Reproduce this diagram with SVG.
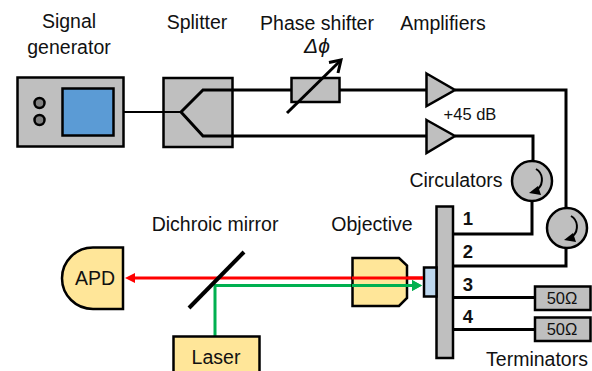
<svg xmlns="http://www.w3.org/2000/svg" width="592" height="371" viewBox="0 0 592 371">
<defs>
<marker id="red" markerWidth="12" markerHeight="12" refX="0" refY="5" orient="auto" markerUnits="userSpaceOnUse" overflow="visible"><path d="M0,0L10,5L0,10Z" fill="#f00"/></marker>
<marker id="green" markerWidth="12" markerHeight="12" refX="0" refY="5.5" orient="auto" markerUnits="userSpaceOnUse" overflow="visible"><path d="M0,0L10,5.5L0,11Z" fill="#00b050"/></marker>
</defs>
<style>
text{font-family:"Liberation Sans",Arial,sans-serif;font-size:19.5px;fill:#111;text-anchor:middle}
.gray{fill:#bfbfbf;stroke:#000;stroke-width:2.5}
.tan{fill:#ffe699;stroke:#000;stroke-width:2.5}
.w{fill:none;stroke:#000;stroke-width:3}
.s{font-size:16.5px}
.b{font-weight:bold;font-size:18.5px}
</style>
<g id="connectors">
<path class="w" d="M232,90H426"/>
<path class="w" d="M232,136H426"/>
<path class="w" d="M455,90H566V208"/>
<path class="w" d="M455,136H533V161"/>
<path class="w" d="M453,234H532V201"/>
<path class="w" d="M453,266H566V248"/>
<path class="w" d="M453,297.500H535"/>
<path class="w" d="M453,329.500H535"/>
<path d="M124,112H181" fill="none" stroke="#000" stroke-width="2"/>
<path d="M423,278H135" fill="none" stroke="#f00" stroke-width="3" marker-end="url(#red)"/>
<path d="M215,336V285.500H412" fill="none" stroke="#00b050" stroke-width="3" marker-end="url(#green)"/>
</g>
<g id="signal-generator">
<rect class="gray" x="17.500" y="77.500" width="106" height="69"/>
<rect x="62.500" y="88.500" width="51" height="47" fill="#5b9bd5" stroke="#000" stroke-width="2.500"/>
<circle cx="39.500" cy="103" r="5" fill="#808080" stroke="#000" stroke-width="2.500"/>
<circle cx="39.500" cy="120" r="5" fill="#808080" stroke="#000" stroke-width="2.500"/>
<text x="69" y="28">Signal</text><text x="69" y="54">generator</text>
</g>
<g id="splitter">
<rect class="gray" x="163.500" y="78" width="69" height="69"/>
<path d="M124,112H181" fill="none" stroke="#000" stroke-width="2"/>
<path class="w" d="M181,112L203,90H232M181,112L203,136H232"/>
<text x="197" y="29">Splitter</text>
</g>
<g id="phase-shifter">
<rect class="gray" x="291.500" y="78" width="48" height="24"/>
<path d="M287,113L340,61" fill="none" stroke="#000" stroke-width="3"/>
<path d="M329,62.500L341,60L338,73" fill="none" stroke="#000" stroke-width="3"/>
<text x="317" y="30">Phase shifter</text>
<text x="317" y="53" font-style="italic" style="font-size:21px">Δϕ</text>
</g>
<g id="amplifier-1"><path class="gray" d="M426.500,73.500L455,90L426.500,106Z"/><text x="443" y="30">Amplifiers</text></g>
<g id="amplifier-2"><path class="gray" d="M426.500,120L455,136L426.500,153Z"/><text class="s" x="470" y="120">+45 dB</text></g>
<g id="circulator-1">
<circle class="gray" cx="532" cy="181" r="20"/>
<path d="M536,169C543,173 544,183 538,189" fill="none" stroke="#000" stroke-width="2"/>
<path d="M529,193L538,186L541,195Z" fill="#000"/>
<text x="456" y="187">Circulators</text>
</g>
<g id="circulator-2">
<circle class="gray" cx="567" cy="228" r="20"/>
<path d="M571,216C578,220 579,230 573,236" fill="none" stroke="#000" stroke-width="2"/>
<path d="M564,240L573,233L576,242Z" fill="#000"/>
</g>
<g id="chip">
<rect class="gray" x="436.500" y="206.500" width="16.500" height="151.500"/>
<text class="b" x="468" y="225">1</text><text class="b" x="468" y="258">2</text><text class="b" x="468" y="291">3</text><text class="b" x="468" y="323">4</text>
</g>
<g id="sample"><rect x="424" y="267.500" width="12.500" height="29" fill="#bdd7ee" stroke="#000" stroke-width="2.500"/></g>
<g id="objective">
<path class="tan" d="M352.500,258H399L407,265.500V298L399,306H352.500Z"/>
<text x="372" y="231">Objective</text>
</g>
<g id="terminator-1"><rect class="gray" x="535" y="286.500" width="55.500" height="23.500"/><text class="s" x="562" y="304">50Ω</text></g>
<g id="terminator-2"><rect class="gray" x="535" y="317.500" width="55.500" height="23.500"/><text class="s" x="562" y="335">50Ω</text></g>
<text x="537" y="366">Terminators</text>
<g id="beams-over-objective">
<path d="M423,278H352" fill="none" stroke="#f00" stroke-width="3"/>
<path d="M352,285.500H412" fill="none" stroke="#00b050" stroke-width="3" marker-end="url(#green)"/>
</g>
<g id="dichroic-mirror">
<path d="M189,308L244,252" fill="none" stroke="#000" stroke-width="4"/>
<text x="215" y="231">Dichroic mirror</text>
</g>
<g id="apd">
<path class="tan" d="M123,247.500V309H93A31,30.750 0 0 1 93,247.500Z"/>
<text x="95" y="285">APD</text>
</g>
<g id="laser">
<rect class="tan" x="173.500" y="336.500" width="86" height="50"/>
<text x="216" y="364">Laser</text>
</g>
</svg>
